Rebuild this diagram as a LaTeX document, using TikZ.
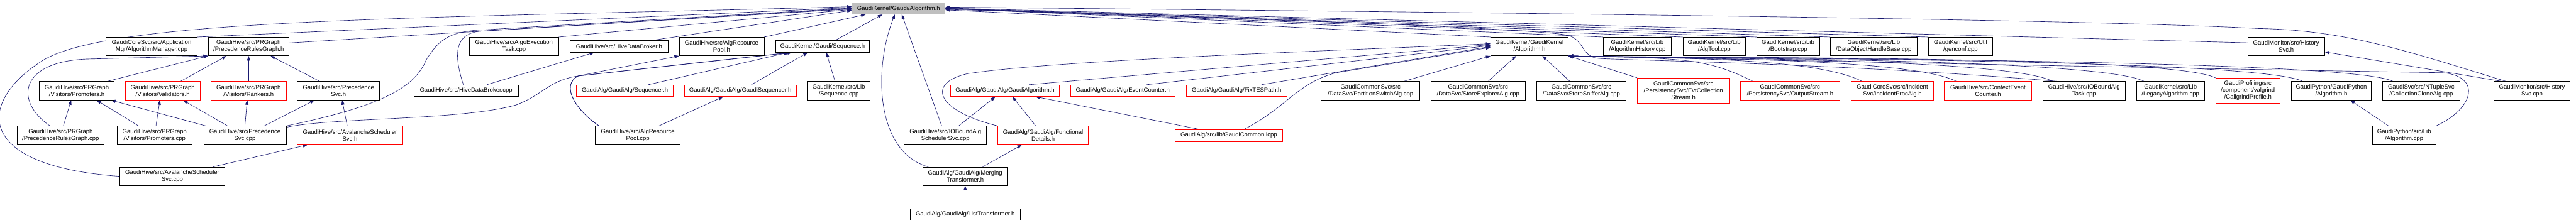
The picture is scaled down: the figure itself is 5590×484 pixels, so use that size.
\documentclass[tikz,border=0pt]{standalone}
\usepackage{fontspec}
\setmainfont{Liberation Sans}
\usetikzlibrary{arrows.meta,backgrounds}
\definecolor{edgeblue}{HTML}{191970}
\definecolor{rootgray}{HTML}{BFBFBF}
\definecolor{truncred}{HTML}{FF0000}

\begin{document}
\begin{tikzpicture}[x=1pt, y=-1pt,
  file/.style={draw=black, fill=white, line width=1pt, align=center, inner sep=1pt,
    font=\fontsize{13}{15}\selectfont},
  trunc/.style={file, draw=truncred},
  rootfile/.style={file, fill=rootgray},
  sz/.style 2 args={minimum width=#1pt, minimum height=#2pt},
  incl/.style={draw=edgeblue, line width=0.9pt, -{Triangle[length=10pt,width=7pt]}}]
  \def\yR{18.5} % row of the root header
  \def\yB{101}
  \def\yC{197}
  \def\yD{294}
  \def\yE{383}
  \def\yF{465.5}
  \useasboundingbox (0,0) rectangle (5590,484);

  % root
  \node[rootfile, sz={202}{25}] (root) at (1950,\yR) {GaudiKernel/Gaudi/Algorithm.h};

  % second row
  \node[file, sz={198}{40}] (amgr) at (329,\yB) {GaudiCoreSvc/src/Application\\Mgr/AlgorithmManager.cpp};
  \node[file, sz={175}{40}] (prgh) at (539.5,\yB) {GaudiHive/src/PRGraph\\/PrecedenceRulesGraph.h};
  \node[file, sz={193}{40}] (aet) at (1115.5,\yB) {GaudiHive/src/AlgoExecution\\Task.cpp};
  \node[file, sz={213}{25}] (hdbh) at (1343.5,\yB) {GaudiHive/src/HiveDataBroker.h};
  \node[file, sz={184}{40}] (arph) at (1566,\yB) {GaudiHive/src/AlgResource\\Pool.h};
  \node[file, sz={204}{25}] (seqh) at (1785,\yB) {GaudiKernel/Gaudi/Sequence.h};
  \node[file, sz={168}{40}] (gkalg) at (3319,\yB) {GaudiKernel/GaudiKernel\\/Algorithm.h};
  \node[file, sz={148}{40}] (ahist) at (3553,\yB) {GaudiKernel/src/Lib\\/AlgorithmHistory.cpp};
  \node[file, sz={136}{40}] (atool) at (3720,\yB) {GaudiKernel/src/Lib\\/AlgTool.cpp};
  \node[file, sz={136}{40}] (boot) at (3880,\yB) {GaudiKernel/src/Lib\\/Bootstrap.cpp};
  \node[file, sz={188}{40}] (dohb) at (4066,\yB) {GaudiKernel/src/Lib\\/DataObjectHandleBase.cpp};
  \node[file, sz={139}{40}] (genconf) at (4254.5,\yB) {GaudiKernel/src/Util\\/genconf.cpp};
  \node[file, sz={166}{40}] (hsvch) at (4961,\yB) {GaudiMonitor/src/History\\Svc.h};

  % third row
  \node[file, sz={163}{40}] (prom) at (166.5,\yC) {GaudiHive/src/PRGraph\\/Visitors/Promoters.h};
  \node[trunc, sz={162}{40}] (valid) at (353,\yC) {GaudiHive/src/PRGraph\\/Visitors/Validators.h};
  \node[trunc, sz={163}{40}] (rank) at (539.5,\yC) {GaudiHive/src/PRGraph\\/Visitors/Rankers.h};
  \node[file, sz={179}{40}] (psvch) at (734.5,\yC) {GaudiHive/src/Precedence\\Svc.h};
  \node[file, sz={227}{25}] (hdbcpp) at (1011.5,\yC) {GaudiHive/src/HiveDataBroker.cpp};
  \node[trunc, sz={210}{25}] (seqr) at (1356,\yC) {GaudiAlg/GaudiAlg/Sequencer.h};
  \node[trunc, sz={243}{25}] (gseq) at (1606.5,\yC) {GaudiAlg/GaudiAlg/GaudiSequencer.h};
  \node[file, sz={136}{40}] (seqcpp) at (1820,\yC) {GaudiKernel/src/Lib\\/Sequence.cpp};
  \node[trunc, sz={236}{25}] (galg) at (2181,\yC) {GaudiAlg/GaudiAlg/GaudiAlgorithm.h};
  \node[trunc, sz={227}{25}] (evc) at (2436.5,\yC) {GaudiAlg/GaudiAlg/EventCounter.h};
  \node[trunc, sz={219}{25}] (fixtes) at (2683.5,\yC) {GaudiAlg/GaudiAlg/FixTESPath.h};
  \node[file, sz={214}{40}] (pswitch) at (2974,\yC) {GaudiCommonSvc/src\\/DataSvc/PartitionSwitchAlg.cpp};
  \node[file, sz={205}{40}] (sexpl) at (3207.5,\yC) {GaudiCommonSvc/src\\/DataSvc/StoreExplorerAlg.cpp};
  \node[file, sz={195}{40}] (ssniff) at (3431.5,\yC) {GaudiCommonSvc/src\\/DataSvc/StoreSnifferAlg.cpp};
  \node[trunc, sz={200}{55}] (evtcoll) at (3653,\yC) {GaudiCommonSvc/src\\/PersistencySvc/EvtCollection\\Stream.h};
  \node[trunc, sz={215}{40}] (ostream) at (3884.5,\yC) {GaudiCommonSvc/src\\/PersistencySvc/OutputStream.h};
  \node[trunc, sz={179}{40}] (incproc) at (4106.5,\yC) {GaudiCoreSvc/src/Incident\\Svc/IncidentProcAlg.h};
  \node[trunc, sz={190}{40}] (ctxevc) at (4314,\yC) {GaudiHive/src/ContextEvent\\Counter.h};
  \node[file, sz={179}{40}] (iotask) at (4522.5,\yC) {GaudiHive/src/IOBoundAlg\\Task.cpp};
  \node[file, sz={148}{40}] (legacy) at (4710,\yC) {GaudiKernel/src/Lib\\/LegacyAlgorithm.cpp};
  \node[trunc, sz={140}{55}] (callgr) at (4878,\yC) {GaudiProfiling/src\\/component/valgrind\\/CallgrindProfile.h};
  \node[file, sz={174}{40}] (gpyalgh) at (5059,\yC) {GaudiPython/GaudiPython\\/Algorithm.h};
  \node[file, sz={168}{40}] (clone) at (5254,\yC) {GaudiSvc/src/NTupleSvc\\/CollectionCloneAlg.cpp};
  \node[file, sz={165}{40}] (hsvccpp) at (5494.5,\yC) {GaudiMonitor/src/History\\Svc.cpp};

  % fourth row
  \node[file, sz={189}{40}] (prgcpp) at (131.5,\yD) {GaudiHive/src/PRGraph\\/PrecedenceRulesGraph.cpp};
  \node[file, sz={163}{40}] (promcpp) at (335.5,\yD) {GaudiHive/src/PRGraph\\/Visitors/Promoters.cpp};
  \node[file, sz={179}{40}] (psvccpp) at (531.5,\yD) {GaudiHive/src/Precedence\\Svc.cpp};
  \node[trunc, sz={229}{40}] (ash) at (759.5,\yD) {GaudiHive/src/AvalancheScheduler\\Svc.h};
  \node[file, sz={184}{40}] (arpcpp) at (1384,\yD) {GaudiHive/src/AlgResource\\Pool.cpp};
  \node[file, sz={179}{40}] (iosched) at (2051.5,\yD) {GaudiHive/src/IOBoundAlg\\SchedulerSvc.cpp};
  \node[trunc, sz={197}{40}] (fdet) at (2263.5,\yD) {GaudiAlg/GaudiAlg/Functional\\Details.h};
  \node[trunc, sz={233}{26}] (gcommon) at (2666.5,\yD) {GaudiAlg/src/lib/GaudiCommon.icpp};
  \node[file, sz={138}{40}] (gpyalgcpp) at (5217,\yD) {GaudiPython/src/Lib\\/Algorithm.cpp};

  % fifth and sixth rows
  \node[file, sz={228}{40}] (ascpp) at (374,\yE) {GaudiHive/src/AvalancheScheduler\\Svc.cpp};
  \node[file, sz={183}{40}] (merge) at (2094.5,\yE) {GaudiAlg/GaudiAlg/Merging\\Transformer.h};
  \node[file, sz={239}{25}] (listtr) at (2094.5,\yF) {GaudiAlg/GaudiAlg/ListTransformer.h};

  \coordinate (jct) at (1255,165);

  \begin{scope}[on background layer]
  \fill[white] (0,0) rectangle (5590,484);

  % into the root, from the left
  \draw[incl] (amgr.north east) -- ([yshift=2pt]root.west);
  \draw[incl] (prgh.5) -- (root.west);
  \draw[incl] (aet.north east) -- ([yshift=-2pt]root.west);
  \draw[incl] ([xshift=70pt]hdbh.north) -- ([yshift=-4pt]root.west);
  \draw[incl] (arph.north east) -- ([xshift=30pt]root.south west);
  \draw[incl] ([xshift=27pt]seqh.north) -- ([xshift=-35pt]root.south);
  \draw[incl] (ascpp.west) .. controls (-60,360) and (-50,220) .. (95,130)
    .. controls (250,40) and (900,40) .. ([yshift=4pt]root.west);
  \draw[incl] (psvccpp.north east) .. controls (830,230) and (900,190) .. (925,130)
    .. controls (950,90) and (970,72) .. (1030,66) -- ([yshift=1pt]root.west);
  \draw[incl] ([xshift=-6pt]hdbcpp.north) .. controls (985,120) and (985,75) .. (1040,68)
    -- ([yshift=-1pt]root.west);
  \draw[incl] ([xshift=-80pt]merge.north) .. controls (1900,330) and (1895,150) .. ([xshift=-8pt]root.south);
  \draw[incl] ([xshift=-8pt]iosched.north) -- ([xshift=7pt]root.south);

  % into the root, from the right
  \draw[incl] (gkalg.north west) -- ([yshift=-3pt]root.east);
  \draw[incl] (ahist.north west) -- (root.east);
  \draw[incl] (atool.north west) -- (root.east);
  \draw[incl] (boot.north west) -- (root.east);
  \draw[incl] (dohb.north west) -- (root.east);
  \draw[incl] (genconf.north west) -- (root.east);
  \draw[incl] ([yshift=8pt]hsvch.west) -- ([yshift=1pt]root.east);
  \draw[incl] ([xshift=-57pt]hsvccpp.north) .. controls (5250,120) and (5100,65) .. (4900,62)
    .. controls (4500,40) and (3000,25) .. ([yshift=3pt]root.east);
  \draw[incl] ([xshift=30pt]iotask.north west) .. controls (4000,138) and (3560,132) .. (3470,127)
    .. controls (3430,124) and (3440,86) .. (3400,76)
    .. controls (3300,60) and (2600,35) .. ([yshift=-2pt]root.east);

  % precedence rules graph
  \draw[incl] ([xshift=67pt]prom.north) -- (prgh.south west);
  \draw[incl] ([xshift=-23pt]prgcpp.north) .. controls (30,220) and (40,130) .. (200,128) -- (prgh.south west);
  \draw[incl] ([xshift=39pt]valid.north) -- ([xshift=-48pt]prgh.south);
  \draw[incl] (rank.north) -- (prgh.south);
  \draw[incl] ([xshift=-41pt]psvch.north) -- ([xshift=48pt]prgh.south);
  \draw[incl] ([xshift=6pt]prgcpp.north) -- ([xshift=-12pt]prom.south);
  \draw[incl] ([xshift=-35pt]promcpp.north) -- ([xshift=43pt]prom.south);
  \draw[incl] ([xshift=-85pt]psvccpp.north) -- ([xshift=74pt]prom.south);
  \draw[incl] ([xshift=3pt]promcpp.north) -- ([xshift=-6pt]valid.south);
  \draw[incl] ([xshift=-38pt]psvccpp.north) -- ([xshift=44pt]valid.south);
  \draw[incl] (psvccpp.north) -- ([xshift=-3pt]rank.south);
  \draw[incl] ([xshift=42pt]psvccpp.north) -- ([xshift=-52pt]psvch.south);
  \draw[incl] ([xshift=-6pt]ash.north) -- ([xshift=8pt]psvch.south);
  \draw[incl] ([xshift=88pt]ascpp.north) -- ([xshift=-92pt]ash.south);

  % data broker, resource pool, sequences
  \draw[incl] ([xshift=45pt]hdbcpp.north) -- ([xshift=-54pt]hdbh.south);
  \draw[incl] ([yshift=-3pt]psvccpp.north east) .. controls (720,255) and (1000,262) .. (1120,228)
    .. controls (1180,205) and (1190,175) .. (jct) -- ([xshift=-70pt]seqh.south);
  \draw[incl] ([xshift=-84pt]arpcpp.north) .. controls (1250,240) and (1215,185) .. (jct) -- (arph.south west);
  \draw[incl] ([xshift=-84pt]arpcpp.north) .. controls (1250,240) and (1215,185) .. (jct) -- ([xshift=-66pt]seqh.south);
  \draw[incl] ([xshift=46pt]arpcpp.north) -- ([xshift=-37pt]gseq.south);
  \draw[incl] ([xshift=51pt]seqr.north) -- ([xshift=-74pt]seqh.south);
  \draw[incl] ([xshift=24pt]gseq.north) -- ([xshift=-32pt]seqh.south);
  \draw[incl] ([xshift=-8pt]seqcpp.north) -- ([xshift=8pt]seqh.south);

  % GaudiAlg
  \draw[incl] ([xshift=29pt]iosched.north) -- ([xshift=-21pt]galg.south);
  \draw[incl] ([xshift=-16pt]fdet.north) -- ([xshift=16pt]galg.south);
  \draw[incl] ([xshift=-66pt]gcommon.north) -- ([xshift=66pt]galg.south);
  \draw[incl] ([xshift=38pt]merge.north) -- ([xshift=-46pt]fdet.south);
  \draw[incl] (listtr.north) -- (merge.south);

  % into GaudiKernel/Algorithm.h, from the left
  \draw[incl] ([xshift=52pt]galg.north) -- ([yshift=4pt]gkalg.west);
  \draw[incl] ([xshift=52pt]evc.north) -- ([yshift=2pt]gkalg.west);
  \draw[incl] ([xshift=54pt]fixtes.north) -- (gkalg.west);
  \draw[incl] (fdet.north west) .. controls (2030,240) and (2010,180) .. (2100,160)
    .. controls (2300,130) and (2900,110) .. ([yshift=6pt]gkalg.west);
  \draw[incl] ([xshift=34pt]gcommon.north) .. controls (2790,235) and (2815,180) .. (2900,158)
    -- ([yshift=-2pt]gkalg.west);
  \draw[incl] ([xshift=73pt]pswitch.north) -- (gkalg.south west);
  \draw[incl] ([xshift=22pt]sexpl.north) -- ([xshift=-29pt]gkalg.south);
  \draw[incl] ([xshift=-25pt]ssniff.north) -- ([xshift=28pt]gkalg.south);
  \draw[incl] (evtcoll.north west) -- (gkalg.south east);

  % into GaudiKernel/Algorithm.h, from the right
  \draw[incl] ([xshift=-81pt]ostream.north) .. controls +(-100,-50) and +(250,5) .. (gkalg.south east);
  \draw[incl] ([xshift=-66pt]incproc.north) .. controls +(-100,-50) and +(250,5) .. (gkalg.south east);
  \draw[incl] ([xshift=-69pt]ctxevc.north) .. controls +(-100,-50) and +(250,5) .. (gkalg.south east);
  \draw[incl] ([xshift=22pt]iotask.north west) .. controls +(-100,-50) and +(250,5) .. (gkalg.south east);
  \draw[incl] ([xshift=17pt]legacy.north west) .. controls +(-100,-50) and +(250,5) .. (gkalg.south east);
  \draw[incl] (callgr.north west) .. controls +(-100,-50) and +(250,5) .. (gkalg.south east);
  \draw[incl] ([xshift=25pt]gpyalgh.north west) .. controls +(-100,-50) and +(250,5) .. (gkalg.south east);
  \draw[incl] ([xshift=23pt]clone.north west) .. controls +(-100,-50) and +(250,5) .. (gkalg.south east);
  \draw[incl] (gpyalgcpp.north east) .. controls (5370,235) and (5385,165) .. (5300,158)
    .. controls (4800,150) and (3700,128) .. (gkalg.south east);

  % python and monitor
  \draw[incl] ([xshift=-34pt]gpyalgcpp.north) -- ([xshift=41pt]gpyalgh.south);
  \draw[incl] ([xshift=-67pt]hsvccpp.north) -- (hsvch.-8);
  \end{scope}
\end{tikzpicture}
\end{document}
